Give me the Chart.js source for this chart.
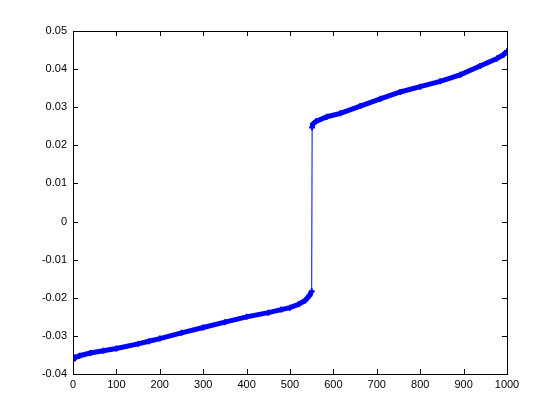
<!DOCTYPE html>
<html>
<head>
<meta charset="utf-8">
<script src="https://cdn.jsdelivr.net/npm/chart.js@4/dist/chart.umd.min.js"></script>
<style>
  html, body { margin: 0; padding: 0; background: #fff; }
  #wrap { width: 560px; height: 420px; }
</style>
</head>
<body>
<div id="wrap"><canvas id="chart" width="560" height="420"></canvas></div>
<script>
// ─── Data ─────────────────────────────────────────────────
const lowX = [0, 5, 15, 40, 70, 100, 150, 175, 200, 250, 300, 350, 400, 450, 480, 500, 520, 535, 545, 550];
const lowY = [-0.0364, -0.0357, -0.0352, -0.0345, -0.0339, -0.0333, -0.0321, -0.0314, -0.0307, -0.0292,
              -0.0278, -0.0264, -0.0250, -0.0239, -0.0231, -0.0226, -0.0217, -0.0207, -0.0194, -0.0183];
const highX = [551, 553, 560, 585, 616, 662, 708, 754, 800, 846, 892, 938, 977, 992, 1000];
const highY = [0.0247, 0.0256, 0.0263, 0.0275, 0.0284, 0.0303, 0.0322, 0.0340, 0.0354, 0.0368,
               0.0385, 0.0408, 0.0428, 0.0438, 0.0447];
const xTicks = [0, 100, 200, 300, 400, 500, 600, 700, 800, 900, 1000];
const yTicks = [-0.04, -0.03, -0.02, -0.01, 0, 0.01, 0.02, 0.03, 0.04, 0.05];

const BLUE = '#0000ff';
const pts = (xs, ys) => xs.map((x, i) => ({ x, y: ys[i] }));

// ─── MATLAB-style box with inward ticks ───────────────────
const boxTicks = {
  id: 'boxTicks',
  afterDraw(chart) {
    const { ctx, chartArea: a, scales: { x, y } } = chart;
    const len = 5;
    ctx.save();
    ctx.strokeStyle = '#000';
    ctx.lineWidth = 1;
    ctx.beginPath();
    xTicks.forEach(v => {
      const px = Math.round(x.getPixelForValue(v)) + 0.5;
      ctx.moveTo(px, a.bottom); ctx.lineTo(px, a.bottom - len);
      ctx.moveTo(px, a.top); ctx.lineTo(px, a.top + len);
    });
    yTicks.forEach(v => {
      const py = Math.round(y.getPixelForValue(v)) + 0.5;
      ctx.moveTo(a.left, py); ctx.lineTo(a.left + len, py);
      ctx.moveTo(a.right, py); ctx.lineTo(a.right - len, py);
    });
    ctx.stroke();
    ctx.strokeRect(Math.round(a.left) + 0.5, Math.round(a.top) + 0.5,
                   Math.round(a.right - a.left), Math.round(a.bottom - a.top));
    ctx.restore();
  }
};

new Chart(document.getElementById('chart'), {
  type: 'line',
  data: {
    datasets: [
      { // thin jump
        data: [{ x: lowX[lowX.length - 1], y: lowY[lowY.length - 1] }, { x: highX[0], y: highY[0] }],
        borderColor: BLUE, borderWidth: 1, pointRadius: 0
      },
      {
        data: pts(lowX, lowY),
        borderColor: BLUE, borderWidth: 5, pointStyle: 'cross', pointRadius: 3,
        pointBorderWidth: 2, pointBorderColor: BLUE
      },
      {
        data: pts(highX, highY),
        borderColor: BLUE, borderWidth: 5, pointStyle: 'cross', pointRadius: 3,
        pointBorderWidth: 2, pointBorderColor: BLUE
      }
    ]
  },
  options: {
    responsive: false,
    animation: false,
    events: [],
    layout: { padding: { top: 31, right: 53, left: 0, bottom: 0 } },
    plugins: { legend: { display: false }, tooltip: { enabled: false } },
    scales: {
      x: {
        type: 'linear', min: 0, max: 1000,
        grid: { display: false, drawTicks: false },
        border: { display: false },
        afterBuildTicks: s => { s.ticks = xTicks.map(v => ({ value: v })); },
        afterFit: s => { s.height = 46; },
        ticks: { color: '#000', padding: 4, maxRotation: 0, autoSkip: false,
                 font: { family: 'Liberation Sans', size: 11 },
                 callback: v => String(v) }
      },
      y: {
        type: 'linear', min: -0.04, max: 0.05,
        grid: { display: false, drawTicks: false },
        border: { display: false },
        afterBuildTicks: s => { s.ticks = yTicks.map(v => ({ value: v })); },
        afterFit: s => { s.width = 73; },
        ticks: { color: '#000', padding: 6, autoSkip: false,
                 font: { family: 'Liberation Sans', size: 11 },
                 callback: v => String(Number(v.toFixed(2))) }
      }
    }
  },
  plugins: [boxTicks]
});
</script>
</body>
</html>
